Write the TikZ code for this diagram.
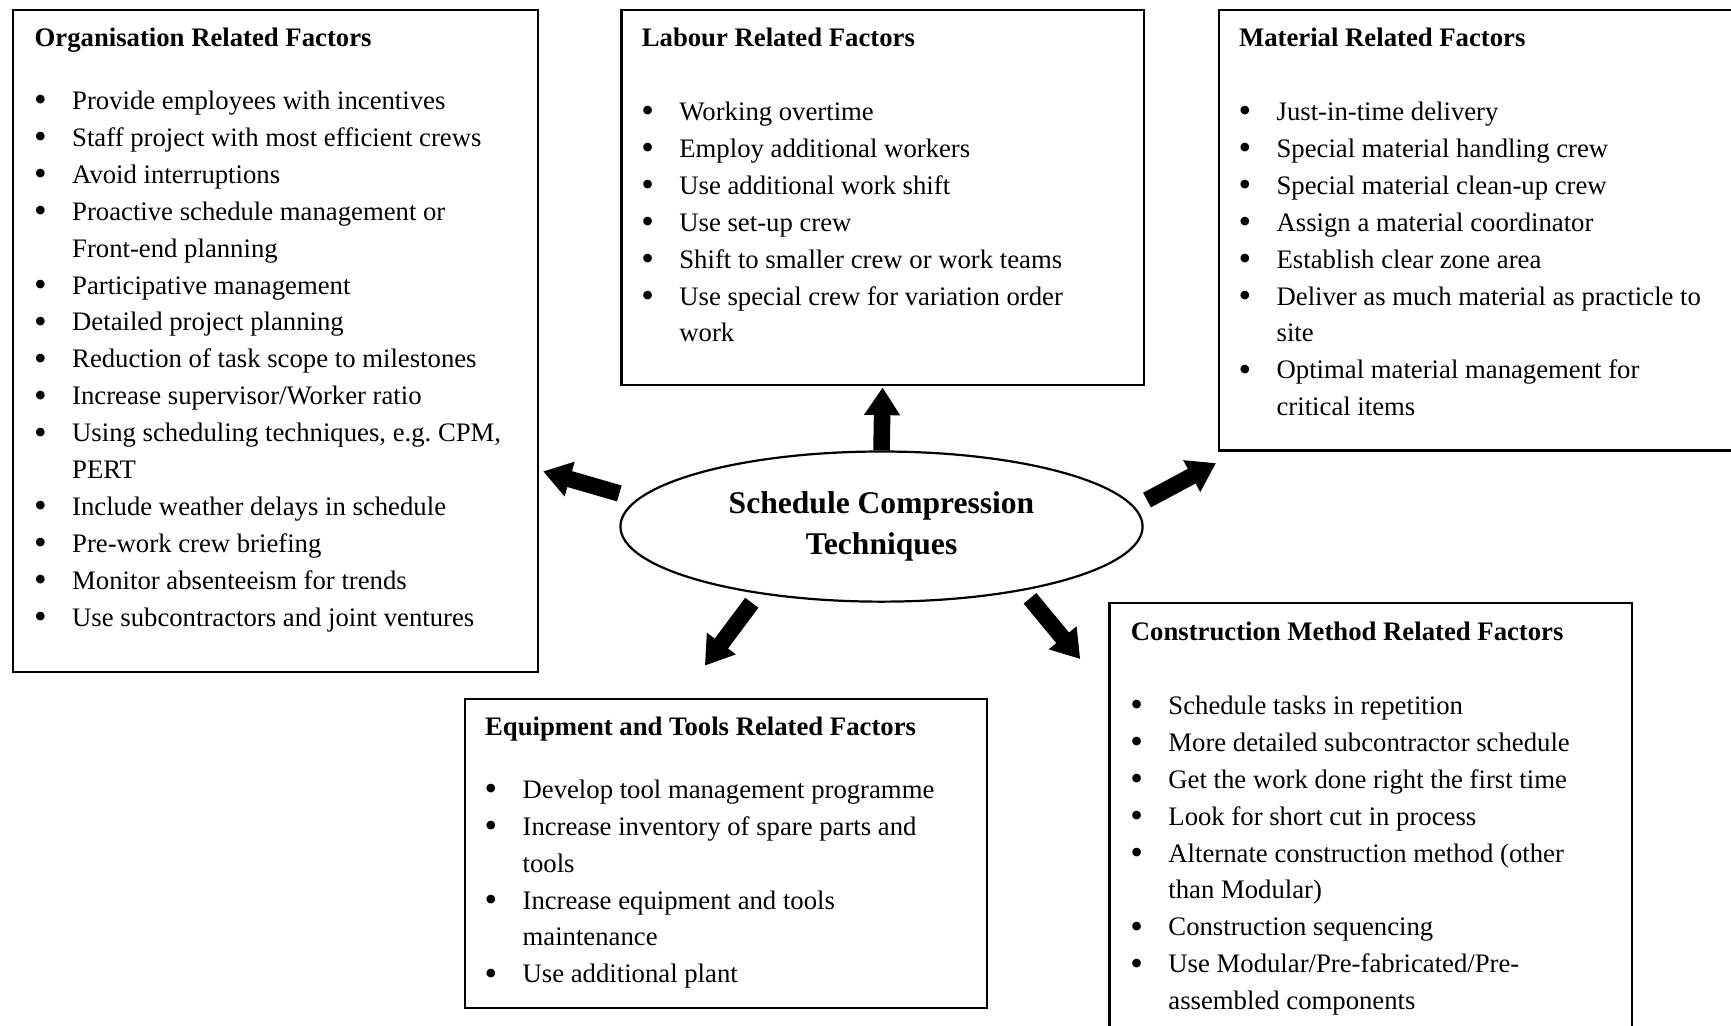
\documentclass[tikz,border=0pt]{standalone}
\usepackage{fontspec}
\setmainfont{Liberation Serif}
\usetikzlibrary{arrows.meta,shapes.geometric,calc}
% bulleted line and continuation line inside a factor list
\newcommand\bigdot{\raisebox{-1.1pt}{\scalebox{1.35}{\textbullet}}}
\newcommand\bitem[1]{\makebox[17pt][l]{\hspace{-0.2pt}\bigdot}#1}
\newcommand\bcont[1]{\hspace*{17pt}#1}
% a list whose reference point is the baseline of its first line
\newcommand\flist[1]{\begin{tabular}[t]{@{}l@{}}#1\end{tabular}}
\begin{document}
\begin{tikzpicture}[x=0.5pt,y=-0.5pt,
  factorbox/.style={draw,line width=1pt,rectangle,inner sep=0pt,anchor=north west},
  listtext/.style={anchor=base west,inner sep=0pt,
    font=\fontsize{12.1pt}{16.72pt}\selectfont},
  blockarrow/.style={line width=7.5pt,-{Triangle[width=15.5pt,length=12.5pt]}},
]
\useasboundingbox (0,0) rectangle (1568,929);
\clip (0,0) rectangle (1568,929);

% factor boxes
\node[factorbox,minimum width=237.5pt,minimum height=300pt] (org) at (11,8) {};
\node[factorbox,minimum width=236.5pt,minimum height=170pt] (lab) at (562,8) {};
\node[factorbox,minimum width=258.5pt,minimum height=199.5pt] (mat) at (1103,8) {};
\node[factorbox,minimum width=236.5pt,minimum height=140pt] (equ) at (420,632) {};
\node[factorbox,minimum width=236.5pt,minimum height=207.5pt] (con) at (1004,545) {};

% central ellipse
\node[draw,ellipse,line width=1pt,inner sep=0pt,minimum width=236.5pt,minimum height=68pt,
  align=center,font=\fontsize{14.3pt}{18.5pt}\selectfont\bfseries] (ell) at (798.5,477)
  {Schedule Compression\\Techniques};

% lists
\node[listtext] (orgtxt) at ($(org.north west)+(20,34)$) {\flist{%
  \textbf{Organisation Related Factors}\\[11.85pt]
  \bitem{Provide employees with incentives}\\
  \bitem{Staff project with most efficient crews}\\
  \bitem{Avoid interruptions}\\
  \bitem{Proactive schedule management or}\\
  \bcont{Front-end planning}\\
  \bitem{Participative management}\\
  \bitem{Detailed project planning}\\
  \bitem{Reduction of task scope to milestones}\\
  \bitem{Increase supervisor/Worker ratio}\\
  \bitem{Using scheduling techniques, e.g.\ CPM,}\\
  \bcont{PERT}\\
  \bitem{Include weather delays in schedule}\\
  \bitem{Pre-work crew briefing}\\
  \bitem{Monitor absenteeism for trends}\\
  \bitem{Use subcontractors and joint ventures}}};

\node[listtext] (labtxt) at ($(lab.north west)+(19,34)$) {\flist{%
  \textbf{Labour Related Factors}\\[16.85pt]
  \bitem{Working overtime}\\
  \bitem{Employ additional workers}\\
  \bitem{Use additional work shift}\\
  \bitem{Use set-up crew}\\
  \bitem{Shift to smaller crew or work teams}\\
  \bitem{Use special crew for variation order}\\
  \bcont{work}}};

\node[listtext] (mattxt) at ($(mat.north west)+(19,34)$) {\flist{%
  \textbf{Material Related Factors}\\[16.85pt]
  \bitem{Just-in-time delivery}\\
  \bitem{Special material handling crew}\\
  \bitem{Special material clean-up crew}\\
  \bitem{Assign a material coordinator}\\
  \bitem{Establish clear zone area}\\
  \bitem{Deliver as much material as practicle to}\\
  \bcont{site}\\
  \bitem{Optimal material management for}\\
  \bcont{critical items}}};

\node[listtext] (equtxt) at ($(equ.north west)+(19,34)$) {\flist{%
  \textbf{Equipment and Tools Related Factors}\\[11.85pt]
  \bitem{Develop tool management programme}\\
  \bitem{Increase inventory of spare parts and}\\
  \bcont{tools}\\
  \bitem{Increase equipment and tools}\\
  \bcont{maintenance}\\
  \bitem{Use additional plant}}};

\node[listtext] (contxt) at ($(con.north west)+(20,35)$) {\flist{%
  \textbf{Construction Method Related Factors}\\[16.85pt]
  \bitem{Schedule tasks in repetition}\\
  \bitem{More detailed subcontractor schedule}\\
  \bitem{Get the work done right the first time}\\
  \bitem{Look for short cut in process}\\
  \bitem{Alternate construction method (other}\\
  \bcont{than Modular)}\\
  \bitem{Construction sequencing}\\
  \bitem{Use Modular/Pre-fabricated/Pre-}\\
  \bcont{assembled components}}};

% arrow ends
\coordinate (upTip) at (799.5,351);
\coordinate (lfTail) at (561,447);
\coordinate (lfTip) at (492,427);
\coordinate (rtTail) at (1039,453);
\coordinate (rtTip) at (1101.5,419.5);
\coordinate (dlTail) at (681,546);
\coordinate (dlTip) at (638.5,603);
\coordinate (drTail) at (933,542);
\coordinate (drTip) at (978.5,597);

\draw[blockarrow] (ell.north) -- (upTip);
\draw[blockarrow] (lfTail) -- (lfTip);
\draw[blockarrow] (rtTail) -- (rtTip);
\draw[blockarrow] (dlTail) -- (dlTip);
\draw[blockarrow] (drTail) -- (drTip);
\end{tikzpicture}
\end{document}
